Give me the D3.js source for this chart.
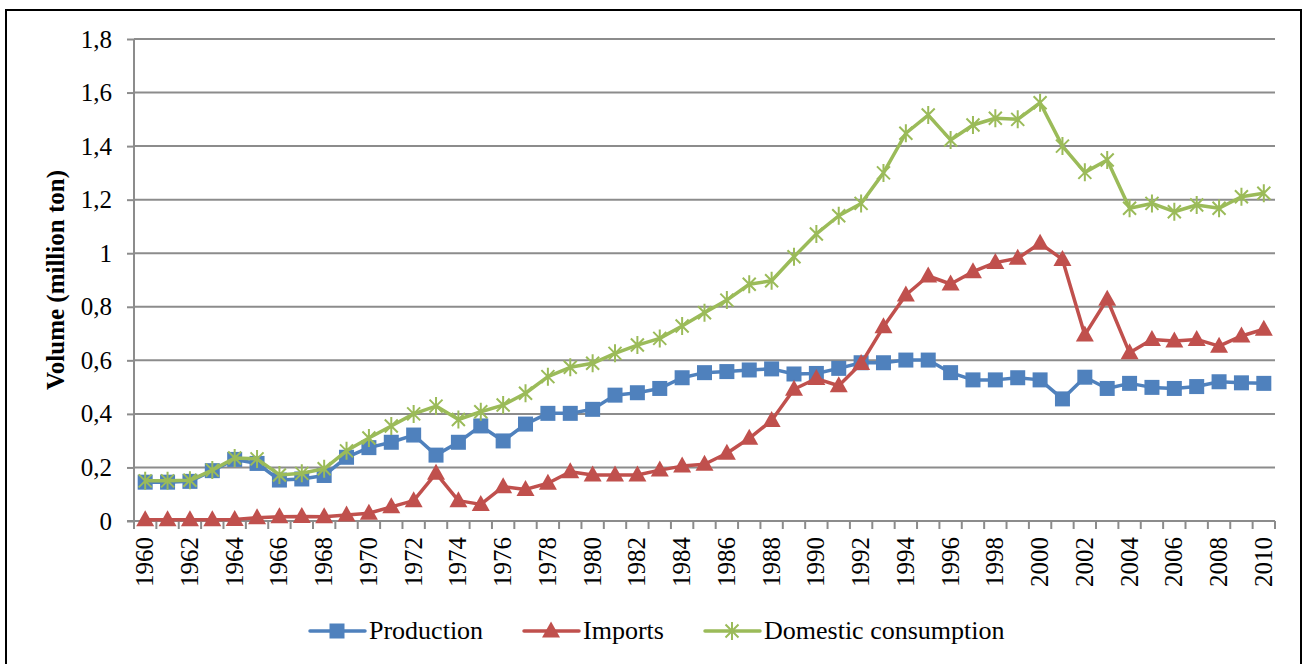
<!DOCTYPE html>
<html>
<head>
<meta charset="utf-8">
<script src="https://cdn.jsdelivr.net/npm/d3@7"></script>
<style>
    body { margin: 0; background: #ffffff; }
</style>
</head>
<body>
<svg id="chart" width="1304" height="664"></svg>
<script>
const YEARS = [
    1960, 1961, 1962, 1963, 1964, 1965, 1966, 1967, 1968, 1969,
    1970, 1971, 1972, 1973, 1974, 1975, 1976, 1977, 1978, 1979,
    1980, 1981, 1982, 1983, 1984, 1985, 1986, 1987, 1988, 1989,
    1990, 1991, 1992, 1993, 1994, 1995, 1996, 1997, 1998, 1999,
    2000, 2001, 2002, 2003, 2004, 2005, 2006, 2007, 2008, 2009, 2010
];

const PRODUCTION = [
    0.145, 0.145, 0.148, 0.188, 0.230, 0.215, 0.153, 0.157, 0.170, 0.238,
    0.274, 0.294, 0.321, 0.246, 0.294, 0.355, 0.299, 0.362, 0.402, 0.402,
    0.417, 0.470, 0.479, 0.495, 0.535, 0.554, 0.558, 0.564, 0.568, 0.549,
    0.551, 0.570, 0.591, 0.591, 0.601, 0.601, 0.554, 0.527, 0.527, 0.535,
    0.527, 0.456, 0.537, 0.495, 0.514, 0.499, 0.495, 0.502, 0.520, 0.516, 0.514
];

const IMPORTS = [
    0.005, 0.005, 0.005, 0.005, 0.006, 0.012, 0.016, 0.017, 0.016, 0.022,
    0.029, 0.053, 0.076, 0.178, 0.076, 0.062, 0.128, 0.118, 0.141, 0.184,
    0.172, 0.172, 0.172, 0.190, 0.205, 0.212, 0.253, 0.309, 0.375, 0.492,
    0.532, 0.505, 0.588, 0.725, 0.844, 0.915, 0.885, 0.931, 0.965, 0.981,
    1.037, 0.977, 0.695, 0.828, 0.628, 0.678, 0.672, 0.678, 0.653, 0.691, 0.716
];

const CONSUMPTION = [
    0.150, 0.150, 0.152, 0.190, 0.235, 0.232, 0.172, 0.178, 0.195, 0.262,
    0.310, 0.355, 0.400, 0.429, 0.379, 0.408, 0.433, 0.477, 0.539, 0.574,
    0.589, 0.626, 0.657, 0.682, 0.728, 0.778, 0.825, 0.884, 0.897, 0.987,
    1.072, 1.140, 1.186, 1.300, 1.448, 1.516, 1.423, 1.479, 1.504, 1.500,
    1.562, 1.400, 1.302, 1.348, 1.168, 1.186, 1.155, 1.180, 1.168, 1.211, 1.224
];

const Y_TICKS = [0, 0.2, 0.4, 0.6, 0.8, 1, 1.2, 1.4, 1.6, 1.8];

const SERIES = [
    { name: "Production", values: PRODUCTION, color: "#4F81BD", marker: "square" },
    { name: "Imports", values: IMPORTS, color: "#C0504D", marker: "triangle" },
    { name: "Domestic consumption", values: CONSUMPTION, color: "#9BBB59", marker: "star" }
];

const FONT = "'Times New Roman', Times, 'Liberation Serif', 'DejaVu Serif', 'Noto Serif', serif";

const svg = d3.select("#chart");

// Outer frame
svg.append("rect")
    .attr("x", 6)
    .attr("y", 10)
    .attr("width", 1295)
    .attr("height", 664)
    .attr("fill", "none")
    .attr("stroke", "#000000")
    .attr("stroke-width", 2);

const plotLeft = 134;
const plotRight = 1275;

const xScale = d3.scaleBand()
    .domain(YEARS)
    .range([plotLeft, plotRight]);

const yScale = d3.scaleLinear()
    .domain([0, 1.8])
    .range([521, 39]);

const xCenter = (year) => xScale(year) + xScale.bandwidth() / 2;

// Gridlines
svg.append("g")
    .selectAll("line")
    .data(Y_TICKS.filter((t) => t > 0))
    .enter()
    .append("line")
    .attr("x1", plotLeft)
    .attr("x2", plotRight)
    .attr("y1", (d) => yScale(d))
    .attr("y2", (d) => yScale(d))
    .attr("stroke", "#8c8c8c")
    .attr("stroke-width", 2);

// Y axis
const yAxis = d3.axisLeft(yScale)
    .tickValues(Y_TICKS)
    .tickSize(7)
    .tickPadding(15)
    .tickFormat((d) => String(d).replace(".", ","));

const yAxisGroup = svg.append("g")
    .attr("transform", "translate(" + plotLeft + ",0)")
    .call(yAxis)
    .attr("font-family", null)
    .attr("font-size", null);

yAxisGroup.selectAll("line, path").attr("stroke", "#8c8c8c").attr("stroke-width", 2);
yAxisGroup.select(".domain").attr("d", "M0," + yScale(1.8) + "V" + yScale(0));
yAxisGroup.selectAll("text")
    .style("font-family", FONT)
    .style("font-size", "25px")
    .attr("fill", "#000000");

// X axis: ticks on category boundaries, labels every other year
const xAxisGroup = svg.append("g");

xAxisGroup.append("line")
    .attr("x1", plotLeft - 7)
    .attr("x2", plotRight)
    .attr("y1", yScale(0))
    .attr("y2", yScale(0))
    .attr("stroke", "#8c8c8c")
    .attr("stroke-width", 2);

xAxisGroup.selectAll(".x-tick")
    .data(YEARS.concat(["end"]))
    .enter()
    .append("line")
    .classed("x-tick", true)
    .attr("x1", (d) => d === "end" ? plotRight : xScale(d))
    .attr("x2", (d) => d === "end" ? plotRight : xScale(d))
    .attr("y1", yScale(0))
    .attr("y2", yScale(0) + 8)
    .attr("stroke", "#8c8c8c")
    .attr("stroke-width", 2);

xAxisGroup.selectAll(".x-label")
    .data(YEARS.filter((y, i) => i % 2 === 0))
    .enter()
    .append("text")
    .classed("x-label", true)
    .attr("transform", (d) => "translate(" + (xCenter(d) + 8) + "," + 537 + ") rotate(-90)")
    .attr("text-anchor", "end")
    .style("font-family", FONT)
    .style("font-size", "25px")
    .text((d) => d);

// Y title
svg.append("text")
    .attr("transform", "translate(" + 64 + "," + 280 + ") rotate(-90)")
    .attr("text-anchor", "middle")
    .style("font-family", FONT)
    .style("font-size", "25px")
    .style("font-weight", "bold")
    .text("Volume (million ton)");

// Markers
const drawMarker = (sel, marker, color) => {
    if (marker === "square") {
        sel.append("rect")
            .attr("x", -7.5)
            .attr("y", -7.5)
            .attr("width", 15)
            .attr("height", 15)
            .attr("fill", color);
    } else if (marker === "triangle") {
        sel.append("path")
            .attr("d", "M0,-9.5L9,6.5L-9,6.5Z")
            .attr("fill", color);
    } else {
        sel.append("path")
            .attr("d", "M-6.5,-6.5L6.5,6.5M-6.5,6.5L6.5,-6.5M0,-9L0,9")
            .attr("stroke", color)
            .attr("stroke-width", 2)
            .attr("fill", "none");
    }
};

// Series
const lineGenerator = d3.line()
    .x((d) => xCenter(d.year))
    .y((d) => yScale(d.value));

SERIES.forEach((series) => {
    const points = YEARS.map((year, i) => ({ year: year, value: series.values[i] }));
    const group = svg.append("g").classed("series", true);

    group.append("path")
        .attr("d", lineGenerator(points))
        .attr("fill", "none")
        .attr("stroke", series.color)
        .attr("stroke-width", 3.5)
        .attr("stroke-linejoin", "round");

    group.selectAll(".marker")
        .data(points)
        .enter()
        .append("g")
        .classed("marker", true)
        .attr("transform", (d) => "translate(" + xCenter(d.year) + "," + yScale(d.value) + ")")
        .each(function () {
            drawMarker(d3.select(this), series.marker, series.color);
        });
});

// Legend
const LEGEND_X = [310, 524, 705];
const legendY = 631;

const legend = svg.append("g").classed("legend", true);

SERIES.forEach((series, i) => {
    const item = legend.append("g")
        .attr("transform", "translate(" + LEGEND_X[i] + "," + legendY + ")");

    item.append("line")
        .attr("x1", 0)
        .attr("x2", 55)
        .attr("y1", 0)
        .attr("y2", 0)
        .attr("stroke", series.color)
        .attr("stroke-width", 3.5)
        .attr("stroke-linecap", "round");

    const markerGroup = item.append("g").attr("transform", "translate(27,0)");
    drawMarker(markerGroup, series.marker, series.color);

    item.append("text")
        .attr("x", 59)
        .attr("y", 8)
        .style("font-family", FONT)
        .style("font-size", "26px")
        .text(series.name);
});
</script>
</body>
</html>
